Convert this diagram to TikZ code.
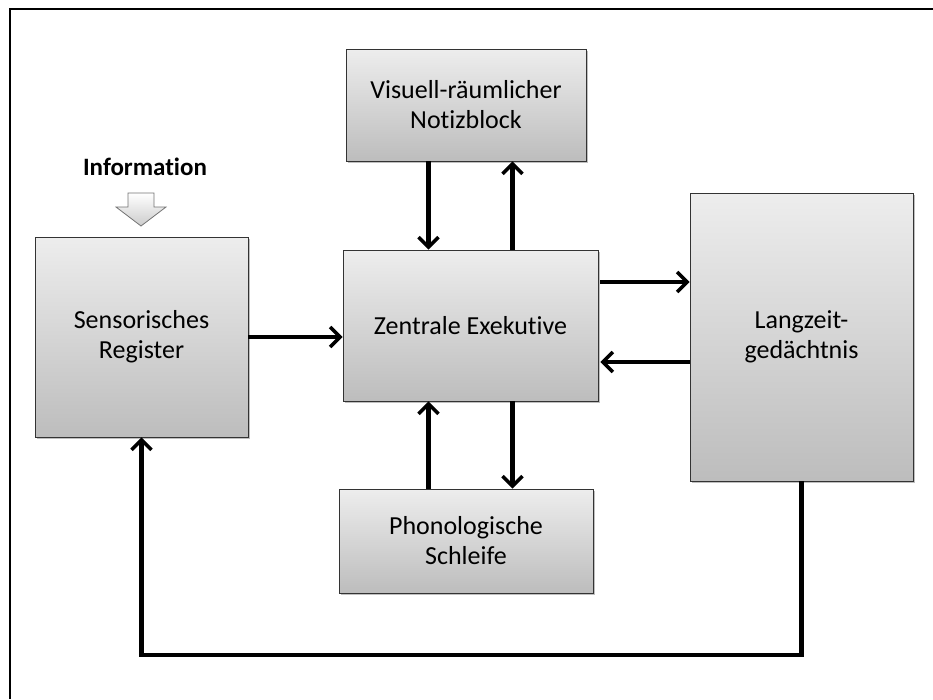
\documentclass[tikz,border=0pt]{standalone}
\usepackage{fontspec}
\setmainfont{Carlito}[Ligatures=NoCommon]
\usetikzlibrary{arrows.meta,shadows}

\begin{document}
\begin{tikzpicture}[x=1pt,y=-1pt,
    box/.style={draw=black!80,line width=0.8pt,top color=black!7,bottom color=black!26,
        drop shadow={shadow xshift=2pt,shadow yshift=-2pt,opacity=0.25,fill=black},
        align=center,inner sep=0pt,font=\fontsize{26}{30}\selectfont},
    flow/.style={-{Straight Barb[length=10pt,width=20pt,line width=3.5pt]},line width=4.2pt}]

    \useasboundingbox (0,0) rectangle (933,699);
    \draw[line width=1.6pt] (10,699) -- (10,9) -- (933,9);

    \node[box,minimum width=213,minimum height=200] (sensor) at (141.5,337) {Sensorisches\\Register};
    \node[box,minimum width=255,minimum height=151] (zentrale) at (470.5,325.5) {Zentrale Exekutive};
    \node[box,minimum width=240,minimum height=112] (notiz) at (466,105) {Visuell-r\"aumlicher\\Notizblock};
    \node[box,minimum width=254,minimum height=104] (phono) at (466,541) {Phonologische\\Schleife};
    \node[box,minimum width=223,minimum height=288] (langzeit) at (801.5,337) {Langzeit-\\ged\"achtnis};

    \node[font=\fontsize{25}{28}\selectfont\bfseries] (info) at (145,167) {Information};
    \draw[black!55,line width=0.8pt,top color=white,bottom color=black!20]
        (128,193) -- (154,193) -- (154,207) -- (166,207) -- (141,226)
        -- (116,207) -- (128,207) -- cycle;

    \coordinate (bottom) at (0,655);

    \draw[flow] (sensor.east) -- (sensor.east -| zentrale.west);
    \draw[flow] ([xshift=-42pt]zentrale.north |- notiz.south) -- ([xshift=-42pt]zentrale.north);
    \draw[flow] ([xshift=42pt]zentrale.north) -- ([xshift=42pt]zentrale.north |- notiz.south);
    \draw[flow] ([xshift=-42pt]zentrale.south |- phono.north) -- ([xshift=-42pt]zentrale.south);
    \draw[flow] ([xshift=42pt]zentrale.south) -- ([xshift=42pt]zentrale.south |- phono.north);
    \draw[flow] ([yshift=43.5pt,xshift=2pt]zentrale.east) -- ([yshift=43.5pt]zentrale.east -| langzeit.west);
    \draw[flow] ([yshift=-36.5pt]zentrale.east -| langzeit.west) -- ([yshift=-36.5pt,xshift=2pt]zentrale.east);
    \draw[flow] (langzeit.south) -- (langzeit.south |- bottom) -| (sensor.south);
\end{tikzpicture}
\end{document}
